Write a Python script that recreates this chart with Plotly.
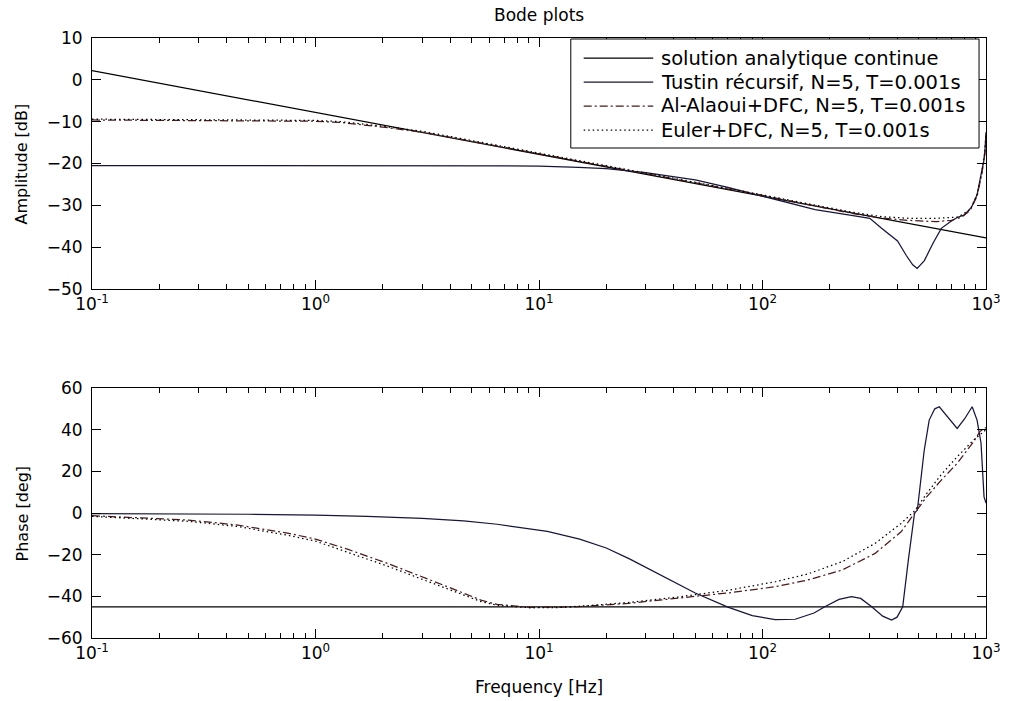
import plotly.graph_objects as go

# ---------------- data ----------------
freq_analytic = [0.1, 1, 10, 100, 1000]
mag_analytic = [2.2, -7.8, -17.8, -27.8, -37.8]
phase_analytic = [-45, -45, -45, -45, -45]

freq_tustin_mag = [0.1, 1, 5, 10, 15, 20, 30, 50, 70, 110, 172, 250, 302, 341, 380,
                   402, 440, 470, 492, 530, 580, 631, 690, 743, 800, 860, 912, 959, 980, 990, 1000]
mag_tustin = [-20.5, -20.5, -20.5, -20.6, -20.9, -21.2, -22.2, -23.9, -25.7, -28.4, -31.0, -32.4,
              -33.1, -35.5, -37.5, -38.5, -42.0, -44.2, -45.1, -43.2, -39.0, -35.5, -34.0, -32.9,
              -32.3, -30.5, -27.5, -22.0, -19.0, -16.5, -12.5]

freq_alalaoui_mag = [0.1, 0.5, 1, 1.3, 1.6, 2, 3, 5, 10, 20, 50, 100, 170, 250, 340, 450,
                     600, 700, 780, 850, 912, 959, 990, 1000]
mag_alalaoui = [-9.6, -9.7, -9.9, -10.2, -10.7, -11.3, -12.5, -14.7, -17.6, -20.6, -24.6,
                -27.6, -30.1, -31.9, -33.0, -33.6, -33.9, -33.6, -32.8, -31.2, -27.8, -22.3,
                -17.5, -13.0]

freq_euler_mag = [0.1, 0.5, 1, 1.3, 1.6, 2, 3, 5, 10, 20, 50, 100, 170, 250, 340, 450,
                  600, 750, 850, 912, 959, 990, 1000]
mag_euler = [-9.4, -9.5, -9.7, -10.0, -10.5, -11.1, -12.3, -14.5, -17.5, -20.5, -24.5,
             -27.5, -29.9, -31.6, -32.7, -33.1, -33.1, -32.8, -31.0, -27.5, -22.0,
             -17.0, -12.8]

freq_tustin_ph = [0.1, 0.33, 0.5, 1, 1.7, 3, 4.6, 6.5, 10.9, 15.2, 20, 25.4, 36, 50, 70, 90,
                  114, 140, 170, 190, 220, 250, 275, 308, 345, 378, 400, 424, 450, 479, 493,
                  529, 557, 590, 618, 680, 743, 800, 867, 912, 950, 980, 1000]
phase_tustin = [-0.3, -0.4, -0.6, -1.0, -1.6, -2.6, -3.8, -5.4, -8.8, -12.5, -16.8, -22.0,
                -30.6, -38.4, -45.2, -49.3, -51.2, -51.0, -48.0, -45.0, -41.5, -40.1, -41.0,
                -45.0, -49.5, -51.4, -50.0, -45.0, -22.0, 0.0, 1.4, 30.0, 44.6, 50.0, 51.0,
                45.5, 40.6, 45.0, 51.0, 44.6, 33.6, 7.7, 4.8]

freq_alalaoui_ph = [0.1, 0.27, 0.45, 0.76, 1.0, 1.4, 2.1, 3.0, 3.9, 5.5, 6.5, 9.1, 12, 15, 25,
                    42, 71, 114, 159, 227, 319, 417, 479, 540, 631, 743, 880, 940, 1000]
phase_alalaoui = [-1.3, -3.4, -5.8, -9.8, -12.5, -17.5, -24.2, -30.5, -35.4, -41.8, -43.9,
                  -45.3, -45.3, -45.0, -43.4, -41.0, -38.3, -35.4, -32.2, -27.4, -19.4, -9.0,
                  -0.2, 7.5, 15.8, 23.8, 34.2, 39.2, 41.0]

freq_euler_ph = [0.1, 0.27, 0.45, 0.76, 1.0, 1.4, 2.1, 3.0, 3.9, 5.5, 6.5, 9.1, 12, 15, 25,
                 42, 71, 114, 159, 227, 319, 417, 479, 540, 631, 743, 880, 940, 1000]
phase_euler = [-1.6, -4.0, -6.5, -10.8, -13.5, -18.8, -25.5, -31.8, -36.5, -42.5, -44.3,
               -45.5, -45.4, -44.8, -43.0, -40.3, -37.0, -33.0, -29.3, -23.4, -14.6, -5.0,
               1.0, 9.0, 18.5, 27.0, 35.0, 37.5, 40.0]

legend_labels = ["solution analytique continue",
                 "Tustin récursif, N=5, T=0.001s",
                 "Al-Alaoui+DFC, N=5, T=0.001s",
                 "Euler+DFC, N=5, T=0.001s"]

x_tickvals = [0.1, 1, 10, 100, 1000]
x_ticktext = ["10<sup>-1</sup>", "10<sup>0</sup>", "10<sup>1</sup>", "10<sup>2</sup>", "10<sup>3</sup>"]
x_minor = [m * 10.0 ** e for e in range(-1, 3) for m in range(2, 10)]

# ---------------- styles ----------------
FONT = "DejaVu Sans"
c_analytic = "#000000"
c_tustin = "#16163a"
c_alalaoui = "#4a1a1a"
c_euler = "#000000"
d_analytic = "solid"
d_tustin = "solid"
d_alalaoui = "8px,3px,2px,3px"
d_euler = "1.5px,3px"
LW = 1.25

fig = go.Figure()

def add(xs, ys, color, dash, xa, ya, name):
    fig.add_trace(go.Scatter(x=xs, y=ys, mode="lines", name=name, showlegend=False,
                             line=dict(color=color, dash=dash, width=LW),
                             xaxis=xa, yaxis=ya, hoverinfo="x+y+name"))

add(freq_analytic, mag_analytic, c_analytic, d_analytic, "x", "y", legend_labels[0])
add(freq_tustin_mag, mag_tustin, c_tustin, d_tustin, "x", "y", legend_labels[1])
add(freq_alalaoui_mag, mag_alalaoui, c_alalaoui, d_alalaoui, "x", "y", legend_labels[2])
add(freq_euler_mag, mag_euler, c_euler, d_euler, "x", "y", legend_labels[3])

add(freq_analytic, phase_analytic, c_analytic, d_analytic, "x2", "y2", legend_labels[0])
add(freq_tustin_ph, phase_tustin, c_tustin, d_tustin, "x2", "y2", legend_labels[1])
add(freq_alalaoui_ph, phase_alalaoui, c_alalaoui, d_alalaoui, "x2", "y2", legend_labels[2])
add(freq_euler_ph, phase_euler, c_euler, d_euler, "x2", "y2", legend_labels[3])

def xaxis(anchor):
    return dict(type="log", range=[-1, 3], domain=[0, 1], anchor=anchor,
                tickmode="array", tickvals=x_tickvals, ticktext=x_ticktext,
                ticks="inside", ticklen=9, tickwidth=1, tickcolor="black",
                minor=dict(tickmode="array", tickvals=x_minor, ticks="inside", ticklen=5,
                           tickwidth=1, tickcolor="black", showgrid=False),
                showline=True, linecolor="black", linewidth=1, mirror="ticks",
                showgrid=False, zeroline=False,
                tickfont=dict(family=FONT, size=17, color="black"))

def yaxis(anchor, rng, dtick, dom):
    return dict(range=rng, dtick=dtick, tick0=0, domain=dom, anchor=anchor,
                ticks="inside", ticklen=9, tickwidth=1, tickcolor="black",
                showline=True, linecolor="black", linewidth=1, mirror="ticks",
                showgrid=False, zeroline=False, ticklabelstandoff=5,
                tickfont=dict(family=FONT, size=17, color="black"))

# pixel helpers for paper-referenced decorations
L, R, T, B, W, H = 92, 21, 38, 63, 1013, 701
PW, PH = W - L - R, H - T - B
def px(x):
    return (x - L) / PW
def py(y):
    return (H - B - y) / PH

fig.update_layout(
    width=W, height=H, autosize=False,
    margin=dict(l=L, r=R, t=T, b=B),
    paper_bgcolor="white", plot_bgcolor="white",
    font=dict(family=FONT, size=17, color="black"),
    xaxis=xaxis("y"), yaxis=yaxis("x", [-50, 10], 10, [py(289), 1.0]),
    xaxis2=xaxis("y2"), yaxis2=yaxis("x2", [-60, 60], 20, [0.0, py(388)]),
    showlegend=False,
)

ann = [
    dict(text="Bode plots", x=px(542), y=py(15), size=17),
    dict(text="Frequency [Hz]", x=px(542), y=py(687), size=17),
    dict(text="Amplitude [dB]", x=px(22), y=py(164), textangle=-90, size=16),
    dict(text="Phase [deg]", x=px(22), y=py(513), textangle=-90, size=16),
]
for a in ann:
    sz = a.pop("size")
    fig.add_annotation(xref="paper", yref="paper", showarrow=False,
                       xanchor="center", yanchor="middle",
                       font=dict(family=FONT, size=sz, color="black"), **a)

# legend box (drawn inside the top axes, like the original)
fig.add_shape(type="rect", xref="paper", yref="paper",
              x0=px(574), x1=px(985), y0=py(148), y1=py(39),
              line=dict(color="black", width=1), fillcolor="white", layer="above")
rows_y = [58, 82, 106, 130]
styles = [(c_analytic, d_analytic), (c_tustin, d_tustin),
          (c_alalaoui, d_alalaoui), (c_euler, d_euler)]
for ry, (col, dsh), lab in zip(rows_y, styles, legend_labels):
    fig.add_shape(type="line", xref="paper", yref="paper",
                  x0=px(587), x1=px(657), y0=py(ry), y1=py(ry),
                  line=dict(color=col, dash=dsh, width=LW), layer="above")
    fig.add_annotation(xref="paper", yref="paper", showarrow=False,
                       x=px(663), y=py(ry), xanchor="left", yanchor="middle",
                       text=lab, font=dict(family=FONT, size=19.5, color="black"))

fig.write_html("out.html")
